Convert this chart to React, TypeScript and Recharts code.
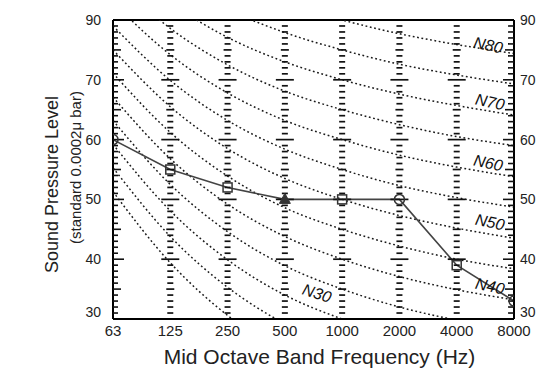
import React from "react";
import {
  ComposedChart,
  Line,
  XAxis,
  YAxis,
  Scatter,
  ReferenceLine,
} from "recharts";

// Octave band centre frequencies (category index 0..7)
const freqLabels = ["63", "125", "250", "500", "1000", "2000", "4000", "8000"];

// Measured sound pressure levels (dB)
const measured = [60, 55, 52, 50, 50, 50, 39, 33];
const markerShapes = ["circle", "square", "square", "triangle", "square", "circle", "square", "circle"];

// Noise rating curves N20..N80 (dB at each octave band)
const n20 = [51.3, 39.4, 30.6, 24.3, 20, 16.8, 14.4, 12.6];
const n25 = [55.3, 43.8, 35.3, 29.2, 25, 21.9, 19.5, 17.8];
const n30 = [59.2, 48.1, 39.9, 34.0, 30, 27.0, 24.7, 22.9];
const n35 = [63.2, 52.5, 44.6, 38.9, 35, 32.0, 29.8, 28.1];
const n40 = [67.1, 56.8, 49.2, 43.8, 40, 37.1, 34.9, 33.2];
const n45 = [71.1, 61.2, 53.9, 48.6, 45, 42.2, 40.0, 38.4];
const n50 = [75.0, 65.5, 58.5, 53.5, 50, 47.3, 45.2, 43.5];
const n55 = [79.0, 69.9, 63.2, 58.4, 55, 52.3, 50.3, 48.7];
const n60 = [82.9, 74.2, 67.8, 63.2, 60, 57.4, 55.4, 53.8];
const n65 = [86.9, 78.6, 72.5, 68.1, 65, 62.5, 60.5, 59.0];
const n70 = [90.8, 82.9, 77.1, 73.0, 70, 67.6, 65.7, 64.1];
const n75 = [94.8, 87.3, 81.8, 77.9, 75, 72.6, 70.8, 69.3];
const n80 = [98.7, 91.6, 86.4, 82.7, 80, 77.7, 75.9, 74.4];
const nrCurves = [n20, n25, n30, n35, n40, n45, n50, n55, n60, n65, n70, n75, n80];

// Curve labels (name, position along frequency index, level)
const curveLabelNames = ["N30", "N40", "N50", "N60", "N70", "N80"];
const curveLabelX = [3.56, 6.58, 6.58, 6.55, 6.58, 6.55];
const curveLabelY = [34.3, 35.5, 46.2, 56.1, 66.3, 75.8];
const curveLabelAngle = [18, 12, 12, 12, 12, 12];

// Y axis ticks and their printed labels
const yTicks = [30, 40, 50, 60, 70, 80];
const yTickLabels = ["30", "40", "50", "60", "70", "90"];
const yMin = 30;
const yMax = 80;

const FONT = "'Liberation Sans', Arial, Helvetica, sans-serif";

const toPoints = (vals: number[]) => vals.map((v, i) => ({ x: i, y: v }));

// tick ladder positions: every 1 dB at each band
const ladderData: { x: number; y: number }[] = [];
for (let i = 0; i < freqLabels.length; i++) {
  for (let l = yMin + 1; l < yMax; l++) ladderData.push({ x: i, y: l });
}

const labelData = curveLabelNames.map((n, i) => ({
  x: curveLabelX[i],
  y: curveLabelY[i],
  name: n,
  angle: curveLabelAngle[i],
}));

const LadderTick = (props: any) => {
  const { cx, cy, payload } = props;
  if (cx == null || cy == null) return <g />;
  const l = payload.y;
  const i = payload.x;
  const is10 = l % 10 === 0;
  const is5 = l % 5 === 0;
  const last = freqLabels.length - 1;
  if (i === 0) {
    const len = is10 ? 11 : is5 ? 8 : 5;
    return <line x1={cx} x2={cx + len} y1={cy} y2={cy} stroke="#111" strokeWidth={1.6} />;
  }
  if (i === last) {
    const len = is10 ? 11 : is5 ? 9 : 6;
    return <line x1={cx - len} x2={cx} y1={cy} y2={cy} stroke="#111" strokeWidth={1.6} />;
  }
  const w = is10 ? 18 : is5 ? 8 : 6;
  return <line x1={cx - w / 2} x2={cx + w / 2} y1={cy} y2={cy} stroke="#111" strokeWidth={1.7} />;
};

const CurveLabel = (props: any) => {
  const { cx, cy, payload } = props;
  if (cx == null || cy == null) return <g />;
  return (
    <text
      x={cx}
      y={cy}
      textAnchor="middle"
      dominantBaseline="central"
      fontFamily={FONT}
      fontStyle="italic"
      fontSize={16}
      fill="#111"
      transform={`rotate(${payload.angle} ${cx} ${cy})`}
    >
      {payload.name}
    </text>
  );
};

const MeasuredDot = (props: any) => {
  const { cx, cy, index } = props;
  if (cx == null || cy == null) return <g key={`d${index}`} />;
  const shape = markerShapes[index];
  const s = 4.5;
  if (shape === "square") {
    return (
      <rect key={`d${index}`} x={cx - s} y={cy - s} width={2 * s} height={2 * s} fill="none" stroke="#333" strokeWidth={1.5} />
    );
  }
  if (shape === "triangle") {
    return (
      <polygon
        key={`d${index}`}
        points={`${cx},${cy - 6} ${cx - 5.5},${cy + 4} ${cx + 5.5},${cy + 4}`}
        fill="#333"
        stroke="#333"
        strokeWidth={1}
      />
    );
  }
  return <circle key={`d${index}`} cx={cx} cy={cy} r={5} fill="none" stroke="#333" strokeWidth={1.5} />;
};

const makeYTick = (anchor: "start" | "end") => (props: any) => {
  const { x, y, payload } = props;
  const idx = yTicks.indexOf(payload.value);
  const dy = payload.value === yMin ? -7 : 0;
  return (
    <text
      x={x}
      y={y + dy}
      textAnchor={anchor}
      dominantBaseline="central"
      fontSize={14}
      fontFamily={FONT}
      fill="#222"
    >
      {yTickLabels[idx]}
    </text>
  );
};
const LeftTick = makeYTick("end");
const RightTick = makeYTick("start");

const YTitle = (props: any) => {
  const vb = props.viewBox || { x: 0, y: 20, width: 113, height: 299 };
  const cy = vb.y + vb.height / 2;
  return (
    <g fontFamily={FONT} fill="#222">
      <text x={52} y={cy + 15} fontSize={18} textAnchor="middle" dominantBaseline="central" transform={`rotate(-90 52 ${cy + 15})`}>
        Sound  Pressure Level
      </text>
      <text x={75} y={cy - 2} fontSize={15} textAnchor="middle" dominantBaseline="central" transform={`rotate(-90 75 ${cy - 2})`}>
        (standard 0.0002μ bar)
      </text>
    </g>
  );
};

const XTitle = (props: any) => {
  const vb = props.viewBox || { x: 113, y: 319, width: 401, height: 52 };
  return (
    <text x={vb.x + vb.width / 2 + 6} y={364} fontSize={21} textAnchor="middle" fontFamily={FONT} fill="#222">
      Mid Octave Band Frequency (Hz)
    </text>
  );
};

export default function App() {
  return (
    <div style={{ position: "absolute", left: 0, top: 0, width: 540, height: 371, background: "#fff" }}>
      <ComposedChart width={540} height={371} margin={{ top: 20, right: 0, bottom: 0, left: 0 }}>
        <XAxis
          dataKey="x"
          type="number"
          domain={[0, freqLabels.length - 1]}
          ticks={freqLabels.map((_, i) => i)}
          tickFormatter={(v: number) => freqLabels[v]}
          interval={0}
          height={52}
          tickLine={false}
          tickSize={4}
          axisLine={{ stroke: "#000", strokeWidth: 2 }}
          tick={{ fill: "#222", fontSize: 15, fontFamily: FONT }}
          label={<XTitle />}
          allowDataOverflow
        />
        <YAxis
          yAxisId="left"
          dataKey="y"
          type="number"
          domain={[yMin, yMax]}
          ticks={yTicks}
          width={113}
          tickLine={false}
          tickSize={10}
          axisLine={{ stroke: "#000", strokeWidth: 2 }}
          tick={LeftTick}
          allowDataOverflow
          label={<YTitle />}
        />
        <YAxis
          yAxisId="right"
          orientation="right"
          type="number"
          domain={[yMin, yMax]}
          ticks={yTicks}
          width={26}
          tickLine={false}
          tickSize={4}
          axisLine={{ stroke: "#000", strokeWidth: 2 }}
          tick={RightTick}
          allowDataOverflow
        />
        <ReferenceLine yAxisId="left" y={yMax} stroke="#000" strokeWidth={2} />

        <Scatter
          yAxisId="left"
          data={ladderData}
          dataKey="y"
          shape={LadderTick}
          isAnimationActive={false}
        />

        {nrCurves.map((c, k) => (
          <Line
            key={`nr${k}`}
            yAxisId="left"
            data={toPoints(c)}
            dataKey="y"
            type="monotone"
            stroke="#1a1a1a"
            strokeWidth={1.5}
            strokeDasharray="1.8 2.6"
            dot={false}
            activeDot={false}
            isAnimationActive={false}
          />
        ))}

        <Line
          yAxisId="left"
          data={toPoints(measured)}
          dataKey="y"
          type="linear"
          stroke="#444"
          strokeWidth={1.6}
          dot={MeasuredDot}
          activeDot={false}
          isAnimationActive={false}
        />

        <Scatter
          yAxisId="left"
          data={labelData}
          dataKey="y"
          shape={CurveLabel}
          isAnimationActive={false}
        />
      </ComposedChart>
    </div>
  );
}
